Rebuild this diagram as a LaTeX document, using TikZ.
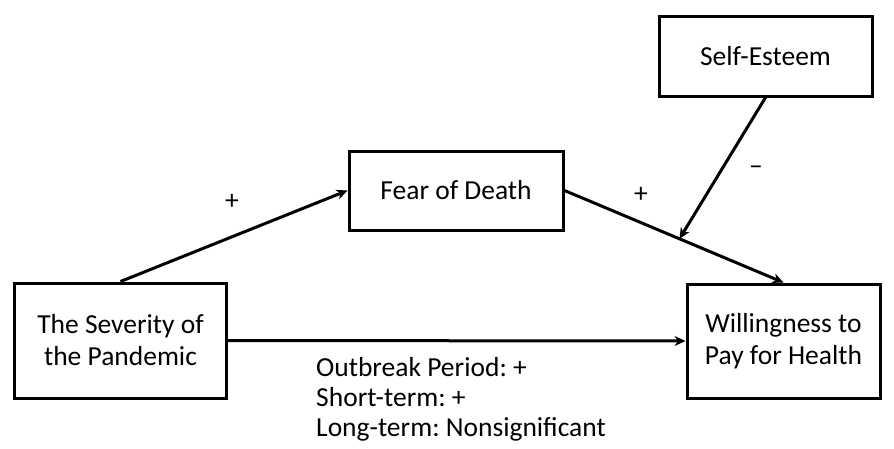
\documentclass[tikz,border=0pt]{standalone}
\usepackage{fontspec}
\setmainfont{Carlito}
\frenchspacing
\usetikzlibrary{arrows.meta,calc}
\begin{document}
\begin{tikzpicture}[x=1pt,y=-1pt,
  box/.style={draw,line width=3pt,minimum width=#1,inner sep=0pt,align=center,font=\fontsize{27.5}{32}\selectfont},
  conn/.style={line width=3pt,-{Stealth[length=11pt,width=10pt]}},
  lbl/.style={font=\fontsize{27.5}{30}\selectfont\frenchspacing,inner sep=0pt}]
\useasboundingbox (0,0) rectangle (894,448);
\node[box=212pt,minimum height=115pt] (sev) at (120.5,340.5) {The Severity of\\the Pandemic};
\node[box=193pt,minimum height=114pt] (will) at (783.5,341) {Willingness to\\Pay for Health};
\node[box=214pt,minimum height=79pt] (fear) at (456,190.5) {Fear of Death};
\node[box=213pt,minimum height=80pt] (self) at (765.5,56) {Self-Esteem};
\draw[conn] (sev.north) -- (fear.west);
\draw[conn] (fear.east) -- coordinate[pos=0.525] (m) (will.north);
\draw[conn] (self.south) -- (m);
\draw[conn] (sev.east) -- (will.west);
\node[lbl] (p1) at (232,202) {+};
\node[lbl] (p2) at (641,195) {+};
\node[lbl] (mi) at (756,170) {–};
\node[lbl,anchor=north west,align=left] (txt) at (316,357) {Outbreak Period: +\\Short-term: +\\Long-term: Nonsignificant};
\end{tikzpicture}
\end{document}
